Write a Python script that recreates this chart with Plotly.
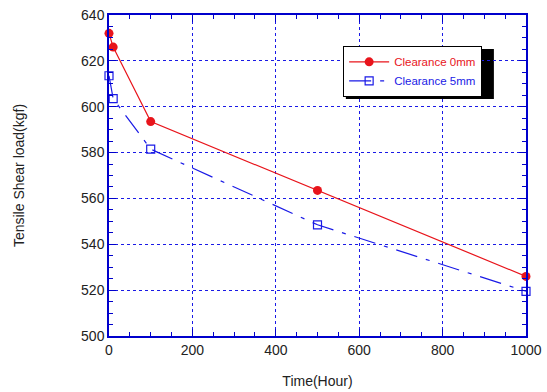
import plotly.graph_objects as go

time_hours = [0, 10, 100, 500, 1000]
clearance_0mm = [632, 626, 593.5, 563.5, 526]
clearance_5mm = [613.5, 603.5, 581.5, 548.5, 519.5]

RED = "#e8141b"
BLUE = "#1a1ae6"
AXIS = "#0000cc"
FONT = "Liberation Sans, Arial"

fig = go.Figure()
fig.add_trace(go.Scatter(
    x=time_hours, y=clearance_0mm, mode="lines+markers",
    name=f"<span style='color:{RED}'>Clearance 0mm</span>",
    line=dict(color=RED, width=1.2),
    marker=dict(symbol="circle", size=9, color=RED),
    cliponaxis=False,
))
fig.add_trace(go.Scatter(
    x=time_hours, y=clearance_5mm, mode="lines+markers",
    name=f"<span style='color:{BLUE}'>Clearance 5mm</span>",
    line=dict(color=BLUE, width=1.2, dash="22px,9px,4px,9px"),
    marker=dict(symbol="square-open", size=8, color=BLUE, line=dict(width=1.2)),
    cliponaxis=False,
))

axis_common = dict(
    showline=True, linecolor=AXIS, linewidth=1.5, mirror="ticks",
    ticks="inside", tickcolor=AXIS, ticklen=7, tickwidth=1,
    showgrid=True, gridcolor=BLUE, griddash="dot", gridwidth=1,
    zeroline=False, automargin=False,
    tickfont=dict(family=FONT, size=14, color="#222"),
    title_font=dict(family=FONT, size=14, color="#222"),
)

fig.update_xaxes(
    range=[0, 1000], dtick=200, tick0=0,
    minor=dict(dtick=50, ticks="inside", ticklen=4, tickcolor=AXIS, showgrid=False),
    title_text="Time(Hour)", title_standoff=20,
    **axis_common,
)
fig.update_yaxes(
    range=[500, 640], dtick=20, tick0=500,
    minor=dict(dtick=5, ticks="inside", ticklen=4, tickcolor=AXIS, showgrid=False),
    title_text="Tensile Shear load(kgf)", title_standoff=53,
    **axis_common,
)

# legend shadow (offset ~3px down-right of the legend box)
fig.add_shape(type="rect", xref="paper", yref="paper",
              x0=0.568, x1=0.923, y0=0.738, y1=0.894,
              fillcolor="black", line=dict(width=0), layer="below")

fig.update_layout(
    width=547, height=392,
    margin=dict(l=109, r=21, t=15, b=56),
    paper_bgcolor="white", plot_bgcolor="rgba(0,0,0,0)",
    showlegend=True,
    legend=dict(
        x=0.561, y=0.903, xanchor="left", yanchor="top",
        bgcolor="white", bordercolor="black", borderwidth=1.2,
        font=dict(family=FONT, size=11.5),
        itemwidth=40, tracegroupgap=0,
        entrywidth=108,
    ),
)

fig.write_html("out.html")
